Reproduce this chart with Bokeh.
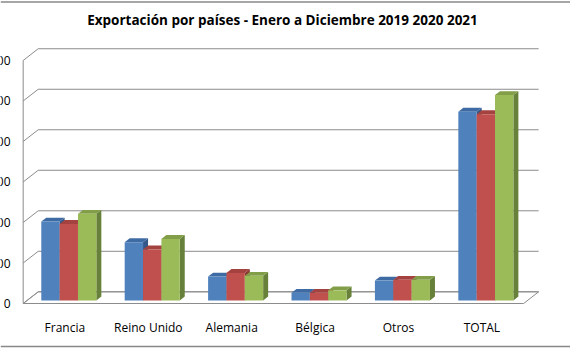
from bokeh.plotting import figure
from bokeh.models import Range1d, Span
from bokeh.core.properties import value
from bokeh.embed import file_html
from bokeh.resources import INLINE

# ---- data ----
categories = ["Francia", "Reino Unido", "Alemania", "Bélgica", "Otros", "TOTAL"]
series_names = ["2019", "2020", "2021"]
v2019 = [195, 144, 59, 19, 49, 466]
v2020 = [189, 126, 68, 19, 51, 460]
v2021 = [214, 152, 61, 25, 51, 507]
tick_values = [0, 100, 200, 300, 400, 500, 600]
title_text = "Exportación por países - Enero a  Diciembre 2019 2020 2021"

front_cols = ["#4F81BD", "#C0504D", "#9BBB59"]
top_cols = ["#3E6BA3", "#A4423F", "#829E49"]
side_cols = ["#335889", "#8A3634", "#67803A"]

n = len(categories)
ymax = tick_values[-1]

p = figure(width=570, height=350, x_range=Range1d(-0.272, 6.562), y_range=Range1d(-116, 748),
           output_backend="svg", toolbar_location=None, min_border=0)
p.axis.visible = False
p.grid.visible = False
p.outline_line_color = None
p.background_fill_color = "white"
p.border_fill_color = "white"

# depth vectors (data units)
DX, DY = 0.18, 28.9      # full floor depth
FX, FY = 0.047, 7.5      # bar front offset
TX, TY = 0.06, 9.5       # bar thickness
BW = 0.22                # bar width
GAP0 = 0.17              # left offset in category

grid_col = "#8C8C8C"

# floor
p.patch([0, n, n + DX, DX], [0, 0, DY, DY], fill_color="white", line_color=grid_col, line_width=1)
# side wall grid + back wall grid
p.segment(x0=[0] * len(tick_values), y0=tick_values, x1=[DX] * len(tick_values),
          y1=[t + DY for t in tick_values], line_color=grid_col, line_width=1)
p.segment(x0=[DX] * len(tick_values), y0=[t + DY for t in tick_values],
          x1=[n + DX] * len(tick_values), y1=[t + DY for t in tick_values], line_color=grid_col, line_width=1)
# front edge of side wall
p.segment(x0=[0], y0=[0], x1=[0], y1=[ymax], line_color=grid_col, line_width=1)

# bars
xs, ys, fc = [], [], []
series = [v2019, v2020, v2021]
for i in range(n):
    for j, vals in enumerate(series):
        v = vals[i]
        x0 = i + GAP0 + BW * j + FX
        x1 = x0 + BW
        y0 = FY
        y1 = v + FY
        xs.append([x1, x1 + TX, x1 + TX, x1]); ys.append([y0, y0 + TY, y1 + TY, y1]); fc.append(side_cols[j])
        xs.append([x0, x1, x1 + TX, x0 + TX]); ys.append([y1, y1, y1 + TY, y1 + TY]); fc.append(top_cols[j])
        xs.append([x0, x1, x1, x0]); ys.append([y0, y0, y1, y1]); fc.append(front_cols[j])
p.patches(xs, ys, fill_color=fc, line_color=None)

# category labels
p.text(x=[i + 0.5 for i in range(n)], y=[-59] * n, text=categories, text_align="center",
       text_baseline="middle", text_font=value("Open Sans"), text_font_size="12px", text_color="#000000")

# y tick labels (left side cropped as in reference)
p.text(x=[-0.152] * len(tick_values), y=tick_values, text=[str(t) for t in tick_values],
       text_align="right", text_baseline="middle", text_font=value("Open Sans"),
       text_font_size="12px", text_color="#000000")

# title
p.text(x=[3.13], y=[699], text=[title_text], text_align="center", text_baseline="middle",
       text_font=value("Open Sans"), text_font_style="bold", text_font_size="13.5px", text_color="#000000")

# chart area border (top and bottom visible)
p.add_layout(Span(location=744.5, dimension="width", line_color="#888888", line_width=1.5))
p.add_layout(Span(location=-106, dimension="width", line_color="#888888", line_width=1.5))

open("out.html", "w").write(file_html(p, INLINE))
